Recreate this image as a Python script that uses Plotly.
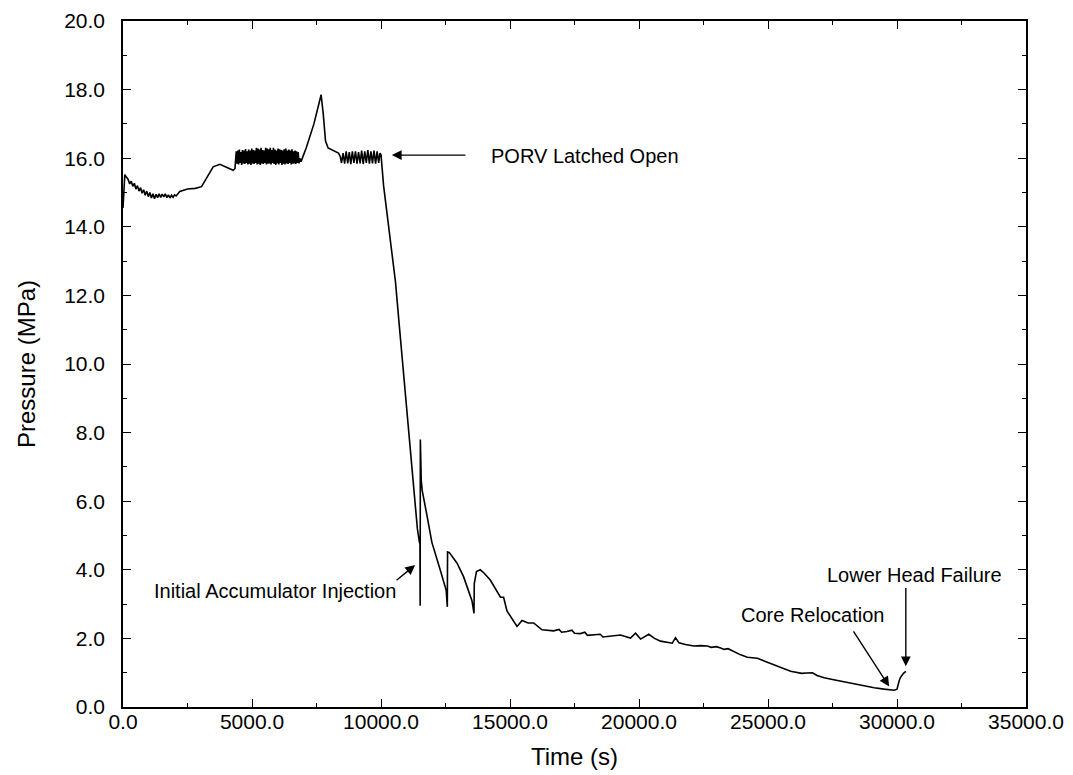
import plotly.graph_objects as go

# ---- data ----
time_start = [0, 30, 70, 130, 200, 260, 320, 380, 440, 500, 560, 620, 680, 740, 800, 860, 920, 980,
              1040, 1100, 1160, 1220, 1280, 1340, 1400, 1460, 1520, 1580, 1640, 1700, 1760, 1820,
              1880, 1940, 2000, 2060, 2200, 2500, 2800, 3044, 3250, 3494, 3754, 4000, 4270, 4340]
pres_start = [14.55, 14.9, 15.52, 15.45, 15.38, 15.25, 15.33, 15.18, 15.27, 15.1, 15.2, 15.04, 15.14,
              14.98, 15.08, 14.92, 15.04, 14.88, 15.0, 14.84, 14.96, 14.82, 14.95, 14.85, 14.96,
              14.86, 14.95, 14.87, 14.96, 14.85, 14.93, 14.84, 14.92, 14.86, 14.93, 14.9, 15.03,
              15.1, 15.12, 15.17, 15.45, 15.75, 15.82, 15.75, 15.65, 15.7]

time_band1 = [4390, 4420, 4450, 4480, 4510, 4540, 4570, 4600, 4630, 4660, 4690, 4720, 4750, 4780,
              4810, 4840, 4870, 4900, 4930, 4960, 4990, 5020, 5050, 5080, 5110, 5140, 5170, 5200,
              5230, 5260, 5290, 5320, 5350, 5380, 5410, 5440, 5470, 5500, 5530, 5560, 5590, 5620,
              5650, 5680, 5710, 5740, 5770, 5800, 5830, 5860, 5890, 5920, 5950, 5980, 6010, 6040,
              6070, 6100, 6130, 6160, 6190, 6220, 6250, 6280, 6310, 6340, 6370, 6400, 6430, 6460,
              6490, 6520, 6550, 6580, 6610, 6640, 6670, 6700, 6730, 6760, 6790, 6820, 6850]
pres_band1 = [16.2, 15.84, 16.22, 15.82, 16.25, 15.86, 16.18, 15.8, 16.24, 15.85, 16.22, 15.83,
              16.27, 15.86, 16.2, 15.82, 16.25, 15.84, 16.22, 15.8, 16.28, 15.85, 16.24, 15.83,
              16.22, 15.86, 16.3, 15.82, 16.28, 15.84, 16.25, 15.8, 16.3, 15.85, 16.24, 15.83,
              16.22, 15.86, 16.3, 15.82, 16.28, 15.84, 16.26, 15.85, 16.3, 15.82, 16.24, 15.86,
              16.3, 15.83, 16.25, 15.8, 16.22, 15.85, 16.28, 15.82, 16.26, 15.86, 16.24, 15.8,
              16.22, 15.84, 16.26, 15.82, 16.28, 15.85, 16.22, 15.83, 16.25, 15.86, 16.22, 15.82,
              16.26, 15.84, 16.2, 15.85, 16.22, 15.83, 16.2, 15.86, 16.18, 15.85, 16.0]

time_peak = [6900, 7100, 7400, 7600, 7680, 7760, 7850, 7950, 8150, 8350, 8420]
pres_peak = [15.9, 16.3, 17.0, 17.6, 17.85, 17.3, 16.5, 16.3, 16.22, 16.15, 16.05]

time_band2 = [8470, 8530, 8590, 8650, 8710, 8770, 8830, 8890, 8950, 9010, 9070, 9130, 9190, 9250,
              9310, 9370, 9430, 9490, 9550, 9610, 9670, 9730, 9790, 9850, 9910, 9960]
pres_band2 = [15.86, 16.15, 15.84, 16.2, 15.85, 16.18, 15.83, 16.2, 15.86, 16.2, 15.84, 16.18, 15.85,
              16.22, 15.83, 16.2, 15.86, 16.24, 15.84, 16.2, 15.85, 16.22, 15.84, 16.2, 15.86, 16.15]

time_drop = [10000, 10100, 10300, 10480, 10560, 10700, 10810, 10950, 11065, 11260, 11410, 11490,
             11510, 11518, 11525, 11560, 11600, 11778, 11972, 12294, 12527, 12570, 12580, 12650,
             12943, 13200, 13525, 13605, 13615, 13700, 13847, 14000, 14235, 14630, 14752, 14883,
             15100, 15272, 15466, 15700, 15916, 16242]
pres_drop = [16.1, 15.2, 14.0, 12.9, 12.4, 11.2, 10.25, 9.0, 8.0, 6.55, 5.2, 4.8, 4.75, 2.95, 7.8,
             6.6, 6.3, 5.6, 4.8, 4.0, 3.4, 2.92, 4.52, 4.5, 4.2, 3.8, 3.1, 2.73, 3.6, 3.95, 4.0, 3.9,
             3.7, 3.2, 3.2, 2.8, 2.55, 2.35, 2.52, 2.45, 2.45, 2.25]

time_tail = [16693, 16900, 17000, 17212, 17400, 17500, 17729, 17900, 18000, 18246, 18500, 18600,
             18766, 19000, 19283, 19500, 19670, 19865, 20060, 20380, 20600, 20835, 21100, 21289,
             21417, 21550, 21800, 22128, 22400, 22648, 22800, 23000, 23165, 23300, 23450, 23700,
             23941, 24200, 24589, 24900, 25234, 25600, 25880, 26300, 26500, 26724, 26900, 27175,
             27500, 27822, 28150, 28470, 28800, 29116, 29500, 29892, 30000, 30022, 30080, 30125,
             30250, 30346]
pres_tail = [2.22, 2.26, 2.18, 2.2, 2.24, 2.15, 2.14, 2.18, 2.09, 2.1, 2.12, 2.04, 2.05, 2.08, 2.1,
             2.05, 2.01, 2.15, 1.98, 2.12, 2.0, 1.92, 1.88, 1.86, 2.02, 1.87, 1.82, 1.78, 1.79, 1.78,
             1.74, 1.76, 1.72, 1.68, 1.7, 1.6, 1.52, 1.45, 1.42, 1.33, 1.24, 1.12, 1.04, 0.98, 0.99,
             1.0, 0.92, 0.85, 0.8, 0.75, 0.7, 0.65, 0.6, 0.56, 0.52, 0.49, 0.52, 0.6, 0.75, 0.85,
             0.98, 1.04]

time_s = time_start + time_band1 + time_peak + time_band2 + time_drop + time_tail
pressure = pres_start + pres_band1 + pres_peak + pres_band2 + pres_drop + pres_tail

x_ticks = [0, 5000, 10000, 15000, 20000, 25000, 30000, 35000]
y_ticks = [0, 2, 4, 6, 8, 10, 12, 14, 16, 18, 20]

FONT = "Liberation Sans, Arial, Helvetica, sans-serif"

fig = go.Figure()
fig.add_trace(go.Scatter(x=time_s, y=pressure, mode="lines",
                         line=dict(color="black", width=1.6), showlegend=False))

axis_common = dict(
    showline=True, linecolor="black", linewidth=1.5, mirror="ticks",
    ticks="inside", ticklen=8, tickwidth=1.3, tickcolor="black",
    showgrid=False, zeroline=False, tickformat=".1f",
    tickfont=dict(family=FONT, size=21, color="black"),
)

fig.update_xaxes(range=[0, 35000], tickvals=x_ticks,
                 minor=dict(ticks="inside", ticklen=4, dtick=2500, tickcolor="black", showgrid=False),
                 title=dict(text="Time (s)", font=dict(family=FONT, size=24, color="black"), standoff=16),
                 ticklabelstandoff=-5,
                 **axis_common)
fig.update_yaxes(range=[0, 20], tickvals=y_ticks,
                 minor=dict(ticks="inside", ticklen=4, dtick=1, tickcolor="black", showgrid=False),
                 title=dict(text="Pressure (MPa)", font=dict(family=FONT, size=24, color="black"), standoff=22),
                 ticklabelstandoff=12,
                 **axis_common)

ann_font = dict(family=FONT, size=20, color="black")
arrow = dict(showarrow=True, arrowhead=2, arrowsize=1.4, arrowwidth=1.4, arrowcolor="black",
             axref="x", ayref="y", text="")

fig.add_annotation(x=10419, y=16.09, ax=13331, ay=16.09, **arrow)
fig.add_annotation(x=14170, y=16.07, text="PORV Latched Open", showarrow=False,
                   xanchor="left", yanchor="middle", font=ann_font)

fig.add_annotation(x=11324, y=4.14, ax=10545, ay=3.66, **arrow)
fig.add_annotation(x=10664, y=3.37, text="Initial Accumulator Injection", showarrow=False,
                   xanchor="right", yanchor="middle", font=ann_font)

fig.add_annotation(x=29697, y=0.6, ax=28276, ay=2.25, **arrow)
fig.add_annotation(x=23863, y=2.69, text="Core Relocation", showarrow=False,
                   xanchor="left", yanchor="middle", font=ann_font)

fig.add_annotation(x=30342, y=1.19, ax=30342, ay=3.51, **arrow)
fig.add_annotation(x=27200, y=3.85, text="Lower Head Failure", showarrow=False,
                   xanchor="left", yanchor="middle", font=ann_font)

fig.update_layout(
    width=1073, height=775,
    margin=dict(l=123, r=47, t=21, b=68, autoexpand=False),
    paper_bgcolor="white", plot_bgcolor="white",
    font=dict(family=FONT, color="black"),
)

fig.write_html("out.html")
